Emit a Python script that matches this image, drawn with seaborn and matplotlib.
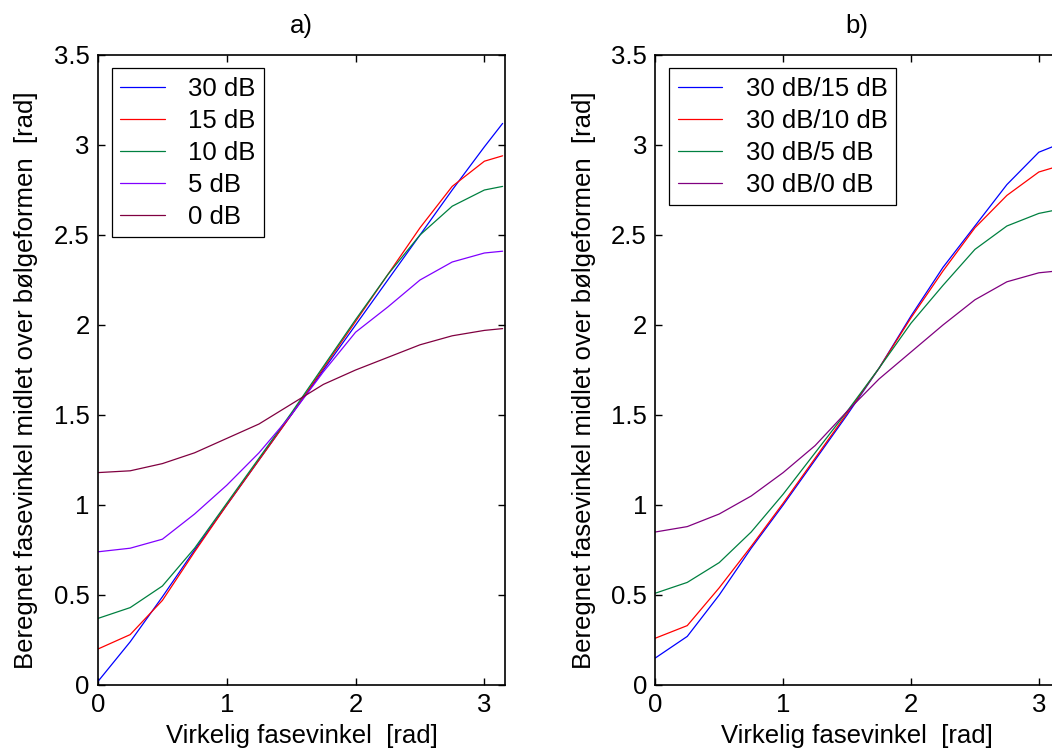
import numpy as np
import pandas as pd
import matplotlib
matplotlib.use("Agg")
import matplotlib.pyplot as plt
import seaborn as sns

# ---- data ----
x_vals = [0.0, 0.25, 0.5, 0.75, 1.0, 1.25, 1.5, 1.75, 2.0, 2.25, 2.5, 2.75, 3.0, 3.1416]

# panel a)
a_labels = ["30 dB", "15 dB", "10 dB", "5 dB", "0 dB"]
a_30 = [0.02, 0.24, 0.49, 0.75, 1.00, 1.25, 1.50, 1.75, 2.00, 2.25, 2.50, 2.75, 2.99, 3.12]
a_15 = [0.20, 0.28, 0.47, 0.74, 1.00, 1.25, 1.50, 1.76, 2.02, 2.28, 2.54, 2.77, 2.91, 2.94]
a_10 = [0.37, 0.43, 0.55, 0.76, 1.01, 1.26, 1.51, 1.77, 2.03, 2.28, 2.50, 2.66, 2.75, 2.77]
a_5 = [0.74, 0.76, 0.81, 0.95, 1.11, 1.29, 1.50, 1.74, 1.96, 2.10, 2.25, 2.35, 2.40, 2.41]
a_0 = [1.18, 1.19, 1.23, 1.29, 1.37, 1.45, 1.56, 1.67, 1.75, 1.82, 1.89, 1.94, 1.97, 1.98]

# panel b)
b_labels = ["30 dB/15 dB", "30 dB/10 dB", "30 dB/5 dB", "30 dB/0 dB"]
b_15 = [0.15, 0.27, 0.50, 0.76, 1.00, 1.25, 1.50, 1.76, 2.05, 2.32, 2.55, 2.78, 2.96, 3.00]
b_10 = [0.26, 0.33, 0.54, 0.77, 1.01, 1.26, 1.51, 1.76, 2.04, 2.30, 2.54, 2.72, 2.85, 2.88]
b_5 = [0.51, 0.57, 0.68, 0.85, 1.06, 1.29, 1.52, 1.76, 2.01, 2.22, 2.42, 2.55, 2.62, 2.64]
b_0 = [0.85, 0.88, 0.95, 1.05, 1.18, 1.33, 1.52, 1.70, 1.85, 2.00, 2.14, 2.24, 2.29, 2.30]

a_colors = ["#0000ff", "#ff0000", "#008040", "#8000ff", "#800040"]
b_colors = ["#0000ff", "#ff0000", "#008040", "#800080"]

xticks = [0, 1, 2, 3]
yticks = [0, 0.5, 1, 1.5, 2, 2.5, 3, 3.5]
ytick_labels = ["0", "0.5", "1", "1.5", "2", "2.5", "3", "3.5"]

xlabel = "Virkelig fasevinkel  [rad]"
ylabel = "Beregnet fasevinkel midlet over bølgeformen  [rad]"

sns.set_theme(style="white")
plt.rcParams["font.family"] = ["Liberation Sans", "DejaVu Sans"]
plt.rcParams["text.color"] = "black"
plt.rcParams["axes.labelcolor"] = "black"
plt.rcParams["xtick.color"] = "black"
plt.rcParams["ytick.color"] = "black"
FS = 18.5

W, H = 1052, 753
fig = plt.figure(figsize=(W / 100, H / 100), dpi=100)
ax_a = fig.add_axes([98 / W, (H - 685) / H, 407 / W, 630 / H])
ax_b = fig.add_axes([655.3 / W, (H - 685) / H, 404 / W, 630 / H])


def draw(ax, series, labels, colors, title):
    rows = []
    for s, lab in zip(series, labels):
        for xv, yv in zip(x_vals, s):
            rows.append({"x": xv, "y": yv, "serie": lab})
    df = pd.DataFrame(rows)
    sns.lineplot(data=df, x="x", y="y", hue="serie", hue_order=labels,
                 palette=colors, estimator=None, sort=False, linewidth=0.9,
                 ax=ax)
    ax.set_xlim(0, 3.16)
    ax.set_ylim(0, 3.5)
    ax.set_xticks(xticks)
    ax.set_xticklabels([str(t) for t in xticks])
    ax.set_yticks(yticks)
    ax.set_yticklabels(ytick_labels)
    ax.tick_params(direction="in", length=5, width=1.0, colors="black",
                   labelsize=FS, top=True, right=True, bottom=True, left=True,
                   pad=6)
    for sp in ax.spines.values():
        sp.set_visible(True)
        sp.set_color("black")
        sp.set_linewidth(1.2)
    ax.set_xlabel(xlabel, fontsize=FS, color="black")
    ax.set_ylabel(ylabel, fontsize=FS, color="black")
    ax.xaxis.set_label_coords(0.5, -0.062)
    ax.yaxis.set_label_coords(-0.147, 0.484)
    ax.set_title(title, fontsize=FS, pad=16, color="black")
    leg = ax.legend(loc="upper left", bbox_to_anchor=(0.034, 0.979),
                    borderaxespad=0, fontsize=FS, frameon=True,
                    fancybox=False, edgecolor="black", framealpha=1,
                    handlelength=1.75, handletextpad=0.9, labelspacing=0.31,
                    borderpad=0.33)
    leg.get_frame().set_linewidth(0.9)
    for t in leg.get_texts():
        t.set_color("black")


draw(ax_a, [a_30, a_15, a_10, a_5, a_0], a_labels, a_colors, "a)")
draw(ax_b, [b_15, b_10, b_5, b_0], b_labels, b_colors, "b)")

fig.savefig("out.png", dpi=100, facecolor="white")
